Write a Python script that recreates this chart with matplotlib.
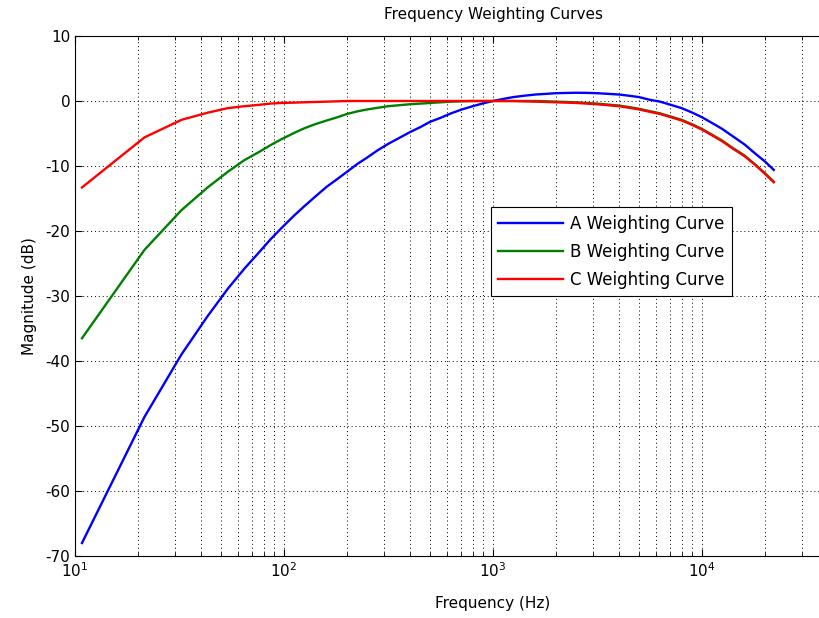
import numpy as np
import matplotlib
matplotlib.use("Agg")
import matplotlib.pyplot as plt
from matplotlib.ticker import LogLocator, FixedLocator, NullFormatter, LogFormatterMathtext

# sample frequencies (Hz) and weighting gains (dB)
freq = [10.8, 21.5, 32.3, 43.1, 53.8, 64.6, 75.4, 86.1, 96.9,
        112, 125, 140, 160, 180, 200, 224, 250, 280, 315, 355,
        400, 450, 500, 560, 630, 710, 800, 900, 1000, 1120,
        1250, 1400, 1600, 1800, 2000, 2240, 2500, 2800, 3150, 3550,
        4000, 4500, 5000, 5600, 6300, 7100, 8000, 9000, 10000, 11200,
        12500, 14000, 16000, 18000, 20000, 22050]
a_weight = [-68.0, -48.6, -39.0, -33.1, -28.9, -25.8, -23.4, -21.3, -19.6,
            -17.6, -16.2, -14.8, -13.2, -12.0, -10.9, -9.7, -8.7, -7.6, -6.6, -5.7,
            -4.8, -4.0, -3.2, -2.6, -1.9, -1.3, -0.8, -0.35, 0.0, 0.32,
            0.6, 0.8, 1.0, 1.1, 1.2, 1.24, 1.27, 1.25, 1.2, 1.1,
            1.0, 0.8, 0.6, 0.2, -0.1, -0.6, -1.1, -1.8, -2.5, -3.4,
            -4.3, -5.4, -6.7, -8.1, -9.3, -10.6]
b_weight = [-36.5, -22.9, -16.8, -13.3, -10.9, -9.1, -7.9, -6.8, -5.9,
            -4.9, -4.2, -3.6, -3.0, -2.5, -2.0, -1.6, -1.3, -1.05, -0.8, -0.65,
            -0.5, -0.4, -0.3, -0.2, -0.1, -0.05, 0.0, 0.0, 0.0, 0.0,
            0.0, 0.0, 0.0, -0.05, -0.1, -0.15, -0.2, -0.3, -0.4, -0.55,
            -0.7, -0.95, -1.2, -1.55, -1.9, -2.4, -2.9, -3.6, -4.3, -5.2,
            -6.1, -7.2, -8.4, -9.8, -11.1, -12.4]
c_weight = [-13.3, -5.6, -2.9, -1.8, -1.1, -0.8, -0.6, -0.4, -0.3,
            -0.25, -0.2, -0.15, -0.1, -0.05, 0.0, 0.0, 0.0, 0.0, 0.0, 0.0,
            0.0, 0.0, 0.0, 0.0, 0.0, 0.0, 0.0, 0.0, 0.0, 0.0,
            0.0, -0.05, -0.1, -0.15, -0.2, -0.25, -0.3, -0.4, -0.5, -0.65,
            -0.8, -1.05, -1.3, -1.65, -2.0, -2.5, -3.0, -3.7, -4.4, -5.3,
            -6.2, -7.3, -8.5, -9.85, -11.2, -12.5]
labels = ["A Weighting Curve", "B Weighting Curve", "C Weighting Curve"]
colors = ["#0000ff", "#008000", "#ff0000"]
x_ticks = [10, 100, 1000, 10000]
y_ticks = [-70, -60, -50, -40, -30, -20, -10, 0, 10]

plt.rcParams["font.family"] = "DejaVu Sans"
plt.rcParams["axes.unicode_minus"] = False
W, H = 820, 618
fig = plt.figure(figsize=(W / 100, H / 100), dpi=100)
# axes box runs past the right edge of the figure (10 .. 1e5 Hz)
ax = fig.add_axes([75 / W, 1 - 556 / H, 836 / W, 520 / H])

for vals, lab, col in zip([a_weight, b_weight, c_weight], labels, colors):
    ax.plot(freq, vals, color=col, lw=1.7, label=lab)

ax.set_xscale("log")
ax.set_xlim(10, 1e5)
ax.set_ylim(-70, 10)
ax.xaxis.set_major_locator(FixedLocator(x_ticks))
ax.xaxis.set_major_formatter(LogFormatterMathtext())
ax.yaxis.set_major_locator(FixedLocator(y_ticks))
ax.xaxis.set_minor_locator(LogLocator(base=10, subs=np.arange(2, 10)))
ax.xaxis.set_minor_formatter(NullFormatter())

grid_ls = (0, (1, 3))
ax.grid(True, which="major", color="k", ls=grid_ls, lw=0.7)
ax.grid(True, which="minor", axis="x", color="k", ls=grid_ls, lw=0.7)

ax.tick_params(which="both", direction="in", top=True, right=True,
               labelsize=11, colors="k")
ax.tick_params(which="major", length=5, width=0.8)
ax.tick_params(which="minor", length=3, width=0.6)
for sp in ax.spines.values():
    sp.set_linewidth(0.8)

ax.set_title("Frequency Weighting Curves", fontsize=11, pad=12)
ax.set_xlabel("Frequency (Hz)", fontsize=11, labelpad=12)
ax.set_ylabel("Magnitude (dB)", fontsize=11, labelpad=6)

leg = ax.legend(loc="upper left", bbox_to_anchor=(491 / W, 1 - 207 / H),
                bbox_transform=fig.transFigure, fancybox=False, fontsize=12,
                handlelength=3.9, borderpad=0.45, labelspacing=0.6,
                handletextpad=0.4, borderaxespad=0)
leg.get_frame().set_edgecolor("k")
leg.get_frame().set_linewidth(0.8)
leg.get_frame().set_alpha(1)

fig.savefig("out.png", dpi=100)
